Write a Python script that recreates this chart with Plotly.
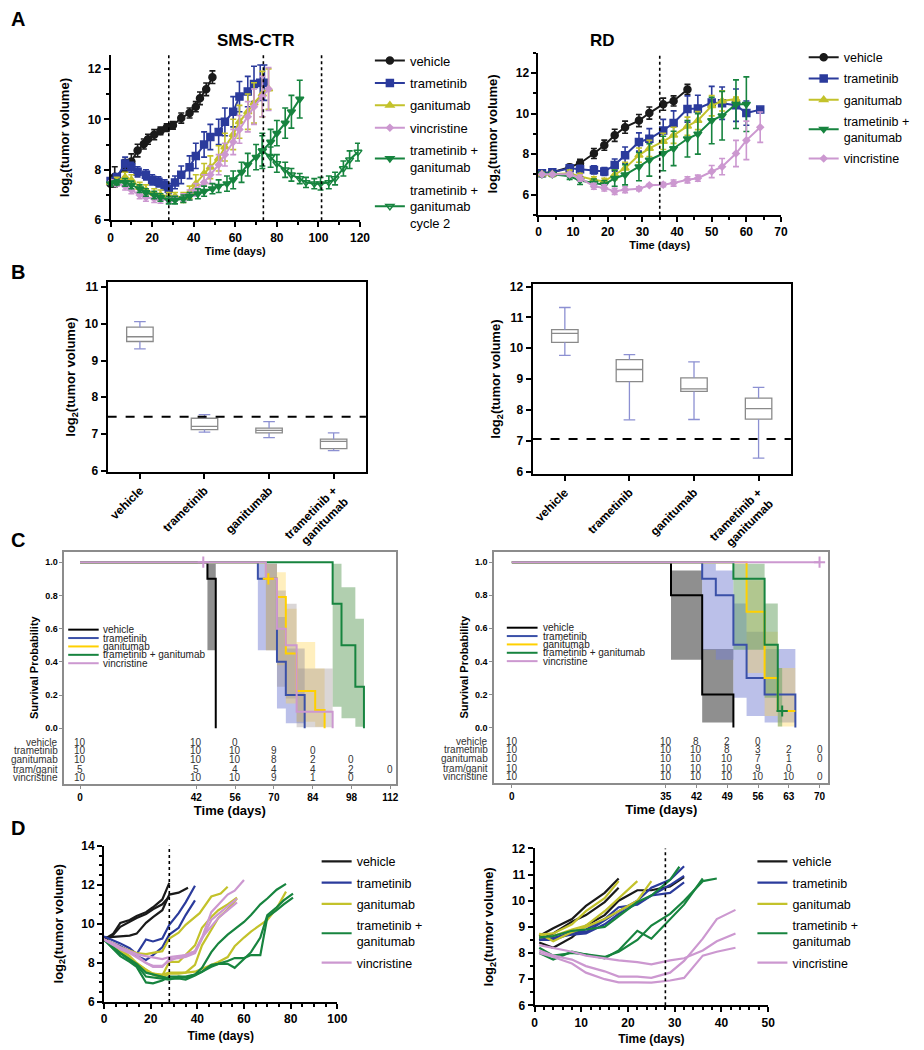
import plotly.graph_objects as go

# ======================= DATA =======================
# ---- Panel A (left): SMS-CTR, mean log2(tumor volume) +/- SEM ----
sms_veh_day = [0, 2, 7, 10, 13, 16, 18, 21, 24, 27, 30, 34, 38, 41, 43, 46, 49]
sms_veh_mean = [7.45, 7.72, 8.05, 8.33, 8.76, 9.02, 9.21, 9.39, 9.54, 9.67, 9.76, 10.05, 10.25, 10.5, 10.83, 11.19, 11.67]
sms_veh_sem = [0.12, 0.4, 0.35, 0.3, 0.25, 0.2, 0.2, 0.2, 0.15, 0.15, 0.15, 0.2, 0.2, 0.2, 0.25, 0.25, 0.25]

sms_tram_day = [0, 3, 7, 10, 13, 17, 20, 23, 26, 28, 31, 34, 38, 41, 45, 48, 52, 55, 59, 62, 66, 69, 72, 74]
sms_tram_mean = [7.55, 7.7, 8.25, 8.1, 7.92, 7.8, 7.6, 7.52, 7.4, 7.25, 7.5, 7.8, 8.1, 8.55, 9.0, 9.3, 9.5, 9.9, 10.3, 10.9, 11.1, 11.4, 11.45, 11.45]
sms_tram_sem = [0.1, 0.15, 0.25, 0.2, 0.2, 0.2, 0.2, 0.2, 0.2, 0.2, 0.25, 0.35, 0.45, 0.5, 0.5, 0.5, 0.5, 0.55, 0.6, 0.6, 0.6, 0.7, 0.7, 0.7]

sms_gan_day = [0, 3, 7, 10, 14, 17, 21, 24, 28, 31, 35, 38, 41, 45, 48, 52, 55, 59, 62, 66, 69, 73, 76]
sms_gan_mean = [7.5, 7.55, 7.7, 7.6, 7.3, 7.2, 7.05, 7.0, 6.95, 6.95, 6.9, 7.1, 7.45, 7.85, 8.1, 8.45, 8.9, 9.4, 9.9, 10.3, 10.65, 11.0, 11.2]
sms_gan_sem = [0.1, 0.15, 0.2, 0.2, 0.2, 0.2, 0.2, 0.2, 0.15, 0.15, 0.2, 0.25, 0.35, 0.4, 0.45, 0.5, 0.55, 0.6, 0.65, 0.7, 0.8, 0.9, 0.8]

sms_vin_day = [0, 3, 7, 10, 14, 17, 21, 24, 28, 31, 35, 38, 41, 45, 48, 52, 55, 59, 62, 66, 69, 73, 76]
sms_vin_mean = [7.5, 7.45, 7.35, 7.2, 7.0, 6.9, 6.85, 6.82, 6.8, 6.85, 6.9, 7.0, 7.2, 7.5, 7.8, 8.2, 8.6, 9.1, 9.6, 10.1, 10.5, 10.9, 11.2]
sms_vin_sem = [0.1, 0.1, 0.15, 0.15, 0.15, 0.15, 0.15, 0.15, 0.1, 0.1, 0.15, 0.2, 0.25, 0.3, 0.35, 0.4, 0.45, 0.5, 0.55, 0.6, 0.7, 0.8, 0.85]

sms_tg_day = [0, 3, 7, 10, 14, 17, 21, 24, 28, 31, 35, 38, 42, 45, 49, 52, 56, 59, 63, 66, 70, 73, 77, 80, 84, 87, 91]
sms_tg_mean = [7.45, 7.5, 7.5, 7.4, 7.25, 7.1, 7.0, 6.9, 6.8, 6.8, 6.85, 6.95, 7.05, 7.15, 7.25, 7.35, 7.45, 7.6, 7.9, 8.2, 8.5, 8.75, 9.1, 9.45, 9.85, 10.3, 10.8]
sms_tg_sem = [0.1, 0.1, 0.15, 0.15, 0.15, 0.15, 0.15, 0.15, 0.15, 0.15, 0.15, 0.15, 0.2, 0.2, 0.2, 0.25, 0.3, 0.35, 0.4, 0.45, 0.5, 0.7, 0.5, 0.5, 0.6, 0.65, 0.75]

sms_tg2_day = [73, 77, 80, 84, 87, 91, 94, 98, 101, 105, 108, 112, 115, 119]
sms_tg2_mean = [8.75, 8.5, 8.25, 8.0, 7.8, 7.65, 7.5, 7.45, 7.45, 7.5, 7.65, 8.05, 8.4, 8.7]
sms_tg2_sem = [0.6, 0.4, 0.35, 0.3, 0.25, 0.2, 0.2, 0.2, 0.25, 0.25, 0.25, 0.3, 0.35, 0.35]

sms_treatment_days = [28, 73.5, 101.5]

# ---- Panel A (right): RD ----
rd_veh_day = [1, 4, 9, 12, 16, 19, 22, 25, 29, 32, 36, 39, 43]
rd_veh_mean = [7.05, 7.1, 7.35, 7.55, 8.03, 8.44, 8.93, 9.33, 9.66, 10.03, 10.47, 10.63, 11.2]
rd_veh_sem = [0.1, 0.1, 0.15, 0.2, 0.25, 0.25, 0.3, 0.3, 0.3, 0.3, 0.3, 0.25, 0.25]

rd_tram_day = [1, 4, 9, 12, 16, 19, 22, 25, 29, 32, 36, 39, 43, 46, 50, 53, 57, 60, 64]
rd_tram_mean = [7.05, 7.1, 7.3, 7.25, 7.22, 7.14, 7.46, 7.95, 8.6, 8.76, 9.17, 9.54, 10.23, 10.26, 10.55, 10.52, 10.42, 10.03, 10.2]
rd_tram_sem = [0.1, 0.1, 0.15, 0.2, 0.2, 0.2, 0.3, 0.4, 0.45, 0.5, 0.55, 0.6, 0.65, 0.65, 0.8, 0.8, 0.8, 0.6, 0.0]

rd_gan_day = [1, 4, 9, 12, 16, 19, 22, 25, 29, 32, 36, 39, 43, 46, 50, 53, 57]
rd_gan_mean = [7.0, 7.0, 7.06, 6.9, 6.73, 6.65, 6.98, 7.3, 7.95, 8.28, 8.63, 8.93, 9.38, 9.66, 10.39, 10.63, 10.72]
rd_gan_sem = [0.1, 0.1, 0.15, 0.15, 0.15, 0.15, 0.25, 0.3, 0.35, 0.4, 0.4, 0.4, 0.45, 0.45, 0.5, 0.5, 0.1]

rd_tg_day = [1, 4, 9, 12, 16, 19, 22, 25, 29, 32, 36, 39, 43, 46, 50, 53, 57, 60]
rd_tg_mean = [7.0, 7.0, 6.9, 6.7, 6.57, 6.49, 6.81, 6.98, 7.38, 7.71, 8.03, 8.28, 8.76, 9.0, 9.66, 9.9, 10.47, 10.47]
rd_tg_sem = [0.1, 0.1, 0.15, 0.2, 0.2, 0.2, 0.4, 0.5, 0.7, 0.8, 0.85, 0.85, 0.9, 1.0, 1.15, 1.2, 1.2, 1.35]

rd_vin_day = [1, 4, 9, 12, 16, 19, 22, 25, 29, 32, 36, 39, 43, 46, 50, 53, 57, 60, 64]
rd_vin_mean = [7.0, 7.0, 7.0, 6.81, 6.41, 6.33, 6.16, 6.24, 6.29, 6.46, 6.49, 6.57, 6.73, 6.81, 7.14, 7.38, 8.03, 8.68, 9.33]
rd_vin_sem = [0.05, 0.05, 0.1, 0.15, 0.15, 0.15, 0.15, 0.15, 0.1, 0.05, 0.1, 0.15, 0.15, 0.15, 0.3, 0.4, 0.65, 0.95, 0.75]

rd_treatment_days = [35]

# ---- Panel B: box plots of log2(tumor volume) ----
box_groups = ["vehicle", "trametinib", "ganitumab", "trametinib +<br>ganitumab"]
bl_low = [9.32, 7.05, 6.9, 6.55]
bl_q1 = [9.52, 7.12, 7.03, 6.6]
bl_med = [9.65, 7.21, 7.1, 6.8]
bl_q3 = [9.91, 7.43, 7.16, 6.86]
bl_high = [10.06, 7.53, 7.34, 7.03]
bl_threshold = 7.47

br_low = [9.77, 7.68, 7.69, 6.44]
br_q1 = [10.19, 8.92, 8.6, 7.7]
br_med = [10.48, 9.31, 8.68, 8.04]
br_q3 = [10.6, 9.63, 9.04, 8.38]
br_high = [11.32, 9.79, 9.56, 8.73]
br_threshold = 7.06

# ---- Panel C: Kaplan-Meier curves (step times, survival, log-log CI) ----
cl_veh_t = [0, 46, 49]
cl_veh_s = [1, 0.9, 0]
cl_veh_ci_t = [46, 49]
cl_veh_lo = [0.47, 0.47]
cl_veh_hi = [0.99, 0.99]

cl_tram_t = [0, 64.2, 71.1, 74.3, 81.1]
cl_tram_s = [1, 0.9, 0.4, 0.2, 0]
cl_tram_ci_t = [64.2, 71.1, 74.3, 81.1]
cl_tram_lo = [0.47, 0.12, 0.03, 0.03]
cl_tram_hi = [0.99, 0.67, 0.48, 0.48]

cl_gan_t = [0, 67.1, 71.1, 74.3, 78.2, 84.9, 88.3]
cl_gan_s = [1, 0.9, 0.79, 0.45, 0.225, 0.11, 0]
cl_gan_ci_t = [67.1, 71.1, 74.3, 78.2, 84.9, 88.3]
cl_gan_lo = [0.47, 0.38, 0.15, 0.04, 0.01, 0.01]
cl_gan_hi = [0.99, 0.94, 0.72, 0.52, 0.36, 0.36]
cl_gan_cens_t = [68]
cl_gan_cens_s = [0.9]

cl_tg_t = [0, 91.2, 94.4, 99.4, 102.5]
cl_tg_s = [1, 0.75, 0.5, 0.25, 0]
cl_tg_ci_t = [91.2, 94.4, 99.4, 102.5]
cl_tg_lo = [0.13, 0.06, 0.01, 0.01]
cl_tg_hi = [0.99, 0.85, 0.66, 0.66]
cl_tg_cens_t = [44.5]
cl_tg_cens_s = [1.0]

cl_vin_t = [0, 67.1, 71.1, 74.3, 78.2, 91.2]
cl_vin_s = [1, 0.9, 0.6, 0.5, 0.1, 0]
cl_vin_ci_t = [67.1, 71.1, 74.3, 78.2, 91.2]
cl_vin_lo = [0.47, 0.25, 0.18, 0.006, 0.006]
cl_vin_hi = [0.99, 0.83, 0.75, 0.36, 0.36]

cr_veh_t = [0, 36.2, 43.3, 50.4]
cr_veh_s = [1, 0.8, 0.2, 0]
cr_veh_ci_t = [36.2, 43.3, 50.4]
cr_veh_lo = [0.41, 0.03, 0.03]
cr_veh_hi = [0.95, 0.475, 0.475]

cr_tram_t = [0, 43.3, 46.4, 50.4, 53.4, 57.5, 64.5]
cr_tram_s = [1, 0.9, 0.8, 0.5, 0.3, 0.2, 0]
cr_tram_ci_t = [43.3, 46.4, 50.4, 53.4, 57.5, 64.5]
cr_tram_lo = [0.47, 0.41, 0.18, 0.07, 0.03, 0.03]
cr_tram_hi = [0.99, 0.95, 0.75, 0.58, 0.475, 0.475]

cr_gan_t = [0, 53.4, 57.5, 60.5, 64.5]
cr_gan_s = [1, 0.7, 0.3, 0.1, 0.1]
cr_gan_ci_t = [53.4, 57.5, 60.5, 64.5]
cr_gan_lo = [0.33, 0.07, 0.006, 0.006]
cr_gan_hi = [0.89, 0.58, 0.36, 0.36]

cr_tg_t = [0, 50.4, 57.5, 60.5, 61.5]
cr_tg_s = [1, 0.9, 0.5, 0.1, 0.1]
cr_tg_ci_t = [50.4, 57.5, 60.5, 61.5]
cr_tg_lo = [0.47, 0.18, 0.006, 0.006]
cr_tg_hi = [0.99, 0.75, 0.36, 0.36]
cr_tg_cens_t = [61.5]
cr_tg_cens_s = [0.1]

cr_vin_t = [0, 70]
cr_vin_s = [1, 1]
cr_vin_cens_t = [70]
cr_vin_cens_s = [1.0]

# numbers at risk
risk_row_labels = ["vehicle", "trametinib", "ganitumab", "tram/ganit", "vincristine"]
rl_times = [0, 42, 56, 70, 84, 98, 112]
rl_vehicle = [10, 10, 0, None, None, None, None]
rl_trametinib = [10, 10, 10, 9, 0, None, None]
rl_ganitumab = [10, 10, 10, 8, 2, 0, None]
rl_tramganit = [5, 5, 4, 4, 4, 2, 0]
rl_vincristine = [10, 10, 10, 9, 1, 0, None]

rr_times = [0, 35, 42, 49, 56, 63, 70]
rr_vehicle = [10, 10, 8, 2, 0, None, None]
rr_trametinib = [10, 10, 10, 8, 3, 2, 0]
rr_ganitumab = [10, 10, 10, 10, 7, 1, 0]
rr_tramganit = [10, 10, 10, 10, 9, 0, None]
rr_vincristine = [10, 10, 10, 10, 10, 10, 0]

# ---- Panel D: individual tumours ----
dL_veh_days = [[0, 4, 7, 11, 14, 18, 21, 25, 28],
               [0, 4, 7, 11, 14, 18, 21, 25, 28, 32, 36],
               [0, 4, 7, 11, 14, 18, 21, 25, 28]]
dL_veh_vol = [[9.2, 9.5, 10.05, 10.2, 10.4, 10.6, 10.85, 11.25, 12.1],
              [9.3, 9.35, 9.35, 9.4, 9.5, 10.05, 10.35, 10.7, 11.5, 11.6, 11.85],
              [9.1, 9.45, 9.85, 10.1, 10.3, 10.5, 10.75, 11.0, 11.4]]
dL_tram_days = [[0, 4, 7, 11, 14, 18, 21, 25, 28, 32, 35, 39],
                [0, 4, 7, 11, 14, 18, 21, 25, 28, 32, 35, 39]]
dL_tram_vol = [[9.35, 9.15, 9.0, 8.75, 8.45, 9.2, 9.1, 9.25, 9.95, 10.55, 11.1, 11.95],
               [9.2, 9.0, 8.85, 8.6, 8.35, 8.15, 8.4, 8.8, 9.45, 9.8, 10.45, 11.2]]
dL_gan_days = [[0, 4, 7, 11, 14, 18, 21, 25, 28, 32, 35, 41, 46, 50, 53],
               [0, 4, 7, 11, 14, 18, 21, 25, 28, 32, 35, 39, 42, 46, 49, 53, 57],
               [0, 4, 7, 11, 14, 18, 21, 25, 28, 32, 35, 39, 42, 46, 49, 53, 56, 60, 63, 67, 70, 74, 78],
               [0, 4, 7, 11, 14, 18, 21, 25, 28, 32, 35, 39, 42, 46, 49, 53, 57]]
dL_gan_vol = [[9.2, 9.0, 8.8, 8.65, 8.5, 8.45, 8.5, 8.6, 9.25, 9.55, 9.95, 10.55, 11.4, 11.55, 11.9],
              [9.2, 8.9, 8.6, 8.25, 7.95, 7.65, 7.45, 7.35, 8.05, 8.05, 8.4, 8.9, 9.8, 10.35, 10.7, 11.0, 11.35],
              [9.2, 8.9, 8.6, 8.2, 7.9, 7.6, 7.45, 7.4, 7.5, 7.5, 7.5, 7.55, 7.7, 7.9, 8.05, 8.3, 8.85, 9.3, 9.6, 9.95, 10.2, 10.8, 11.65],
              [9.2, 8.95, 8.7, 8.35, 8.0, 7.65, 7.4, 7.25, 7.45, 7.45, 7.5, 7.9, 8.9, 9.7, 10.3, 10.75, 11.3]]
dL_tg_days = [[0, 4, 7, 11, 14, 18, 21, 25, 28, 32, 35, 39, 42, 46, 49, 53, 56, 60, 63, 67, 70, 74, 78],
              [0, 4, 7, 11, 14, 18, 21, 25, 28, 32, 35, 39, 42, 46, 49, 53, 56, 60, 63, 67, 70, 74, 77, 81],
              [0, 4, 7, 11, 14, 18, 21, 25, 28, 32, 35, 39, 42, 46, 49, 53, 56, 60, 63, 67, 70, 74, 77, 81]]
dL_tg_vol = [[9.2, 8.7, 8.35, 8.05, 7.8, 7.0, 6.95, 7.1, 7.3, 7.3, 7.25, 7.4, 7.75, 8.55, 9.0, 9.45, 9.75, 10.1, 10.45, 11.0, 11.3, 11.75, 12.05],
             [9.2, 8.8, 8.5, 8.15, 7.9, 7.3, 7.25, 7.2, 7.15, 7.3, 7.3, 7.4, 7.55, 7.8, 7.95, 7.95, 7.75, 8.2, 8.55, 9.3, 10.45, 10.85, 11.2, 11.55],
             [9.2, 8.75, 8.5, 8.2, 7.95, 7.5, 7.4, 7.3, 7.2, 7.2, 7.15, 7.35, 7.55, 7.9, 7.95, 8.1, 8.25, 8.25, 8.4, 8.4, 10.35, 10.7, 11.0, 11.35]]
dL_vin_days = [[0, 4, 7, 11, 14, 18, 21, 25, 28, 32, 35, 39, 42, 46, 49, 53, 56, 60],
               [0, 4, 7, 11, 14, 18, 21, 25, 28, 32, 35, 39, 42, 46, 49, 53, 57],
               [0, 4, 7, 11, 14, 18, 21, 25, 28, 32, 35, 39, 42, 46, 49, 53, 57]]
dL_vin_vol = [[9.2, 9.0, 8.8, 8.6, 8.45, 8.35, 8.3, 8.2, 8.3, 8.35, 8.4, 8.6, 9.3, 10.6, 11.0, 11.5, 11.7, 12.25],
              [9.2, 8.9, 8.7, 8.5, 8.3, 8.0, 7.85, 7.85, 8.1, 8.3, 8.4, 8.6, 9.3, 9.9, 10.3, 10.7, 11.1],
              [9.2, 8.95, 8.75, 8.55, 8.4, 8.0, 7.8, 7.8, 8.2, 8.25, 8.3, 8.5, 9.2, 10.2, 10.5, 10.9, 11.3]]
dL_treatment_days = [28]

dR_veh_days = [[1, 4, 8, 11, 15, 18], [1, 4, 8, 11, 15, 18], [1, 4, 8, 11, 15, 18, 22, 25, 29, 32]]
dR_veh_vol = [[8.65, 8.95, 9.3, 9.8, 10.3, 10.85],
              [8.5, 8.75, 9.2, 9.45, 9.95, 10.5],
              [8.4, 8.2, 8.6, 9.05, 9.45, 10.0, 10.4, 10.4, 10.55, 10.9]]
dR_tram_days = [[1, 4, 8, 11, 15, 18, 22, 25, 29, 32]] * 3
dR_tram_vol = [[8.6, 8.55, 8.8, 8.8, 9.25, 9.6, 10.0, 10.5, 10.8, 11.32],
               [8.55, 8.6, 8.7, 8.75, 9.1, 9.5, 9.9, 10.2, 10.6, 10.95],
               [8.5, 8.5, 8.75, 8.9, 9.3, 9.75, 9.85, 10.2, 10.3, 10.7]]
dR_gan_days = [[1, 4, 8, 11, 15, 18], [1, 4, 8, 11, 15, 18, 22], [1, 4, 8, 11, 15, 18, 22, 25]]
dR_gan_vol = [[8.7, 8.75, 9.1, 9.6, 10.1, 10.75],
              [8.6, 8.65, 8.9, 9.05, 9.6, 10.1, 10.75],
              [8.75, 8.45, 8.8, 9.0, 9.3, 9.6, 10.0, 10.75]]
dR_tg_days = [[1, 4, 8, 11, 15, 18, 22, 25, 29, 31],
              [1, 4, 8, 11, 15, 18, 22, 25, 29, 32, 36],
              [1, 4, 8, 11, 15, 18, 22, 25, 29, 32, 36, 39]]
dR_tg_vol = [[8.6, 8.65, 8.85, 8.9, 9.0, 9.4, 9.95, 10.2, 10.8, 11.3],
             [8.0, 7.75, 8.05, 7.95, 7.8, 8.1, 8.85, 8.55, 9.3, 9.85, 10.85],
             [8.2, 7.9, 8.0, 7.95, 7.85, 8.05, 8.5, 9.05, 9.5, 10.0, 10.75, 10.85]]
dR_vin_days = [[1, 4, 8, 11, 15, 18, 22, 25, 29, 32, 36, 39, 43]] * 3
dR_vin_vol = [[8.1, 7.9, 7.75, 7.5, 7.3, 7.1, 7.1, 7.05, 7.25, 7.7, 8.55, 9.3, 9.65],
              [8.3, 8.2, 8.05, 7.9, 7.8, 7.72, 7.65, 7.57, 7.72, 7.8, 8.1, 8.45, 8.75],
              [8.0, 7.85, 7.6, 7.25, 7.0, 6.88, 6.88, 6.87, 6.95, 7.05, 7.9, 8.05, 8.2]]
dR_treatment_days = [28]

# ======================= STYLE =======================
W, H = 924, 1050
OFF = 8  # page body margin that shifts the figure in the screenshot
FONT = "Liberation Sans, Arial, Helvetica, sans-serif"
C_VEH = "#1a1a1a"
C_TRAM = "#2b3b9c"
C_GAN = "#c3c22b"
C_TG = "#17843f"
C_VIN = "#cc98d0"
K_TRAM = "#3a50a8"
K_GAN = "#ffd000"
B_VEH = "rgba(95,95,95,0.7)"
B_TRAM = "rgba(120,130,212,0.5)"
B_GAN = "rgba(255,208,70,0.35)"
B_TG = "rgba(100,160,95,0.5)"
B_VIN = "rgba(150,138,138,0.35)"


def px(p):
    return (p - OFF) / W


def py(p):
    return 1 - (p - OFF) / H


def dx(a, b):
    return [px(a), px(b)]


def dy(top, bottom):
    return [py(bottom), py(top)]


fig = go.Figure()


def mean_trace(x, y, e, name, color, symbol, xa, ya, legend, size=7):
    fig.add_trace(go.Scatter(
        x=x, y=y, mode="lines+markers", name=name,
        line=dict(color=color, width=2),
        marker=dict(symbol=symbol, size=size, color=color, line=dict(color=color, width=1.5)),
        error_y=dict(type="data", array=e, visible=True, color=color, thickness=1.6, width=3),
        xaxis=xa, yaxis=ya, legend=legend, legendgroup=name + xa, cliponaxis=False))


# ---- A left
mean_trace(sms_veh_day, sms_veh_mean, sms_veh_sem, "vehicle", C_VEH, "circle", "x", "y", "legend")
mean_trace(sms_tram_day, sms_tram_mean, sms_tram_sem, "trametinib", C_TRAM, "square", "x", "y", "legend")
mean_trace(sms_gan_day, sms_gan_mean, sms_gan_sem, "ganitumab", C_GAN, "triangle-up", "x", "y", "legend")
mean_trace(sms_vin_day, sms_vin_mean, sms_vin_sem, "vincristine", C_VIN, "diamond", "x", "y", "legend", size=5)
mean_trace(sms_tg_day, sms_tg_mean, sms_tg_sem, "trametinib +<br>ganitumab", C_TG, "triangle-down", "x", "y", "legend")
mean_trace(sms_tg2_day, sms_tg2_mean, sms_tg2_sem, "trametinib +<br>ganitumab<br>cycle 2", C_TG, "triangle-down-open", "x", "y", "legend")

# ---- A right
mean_trace(rd_veh_day, rd_veh_mean, rd_veh_sem, "vehicle", C_VEH, "circle", "x2", "y2", "legend2")
mean_trace(rd_tram_day, rd_tram_mean, rd_tram_sem, "trametinib", C_TRAM, "square", "x2", "y2", "legend2")
mean_trace(rd_gan_day, rd_gan_mean, rd_gan_sem, "ganitumab", C_GAN, "triangle-up", "x2", "y2", "legend2")
mean_trace(rd_tg_day, rd_tg_mean, rd_tg_sem, "trametinib +<br>ganitumab", C_TG, "triangle-down", "x2", "y2", "legend2")
mean_trace(rd_vin_day, rd_vin_mean, rd_vin_sem, "vincristine", C_VIN, "diamond", "x2", "y2", "legend2", size=5)


# ---- B
def box_panel(low, q1, med, q3, high, xa, ya):
    pos = list(range(len(q1)))
    fig.add_trace(go.Box(x=pos, q1=q1, median=med, q3=q3, lowerfence=q1, upperfence=q3,
                         width=0.41, whiskerwidth=0, fillcolor="white",
                         line=dict(color="#8a8a8a", width=1.3), boxpoints=False,
                         xaxis=xa, yaxis=ya, showlegend=False, hoverinfo="skip"))
    wx, wy = [], []
    cw = 0.09
    for i in pos:
        wx += [i, i, None, i, i, None, i - cw, i + cw, None, i - cw, i + cw, None]
        wy += [q3[i], high[i], None, q1[i], low[i], None, high[i], high[i], None, low[i], low[i], None]
    fig.add_trace(go.Scatter(x=wx, y=wy, mode="lines", line=dict(color="#8c90d2", width=1.3),
                             xaxis=xa, yaxis=ya, showlegend=False, hoverinfo="skip"))


box_panel(bl_low, bl_q1, bl_med, bl_q3, bl_high, "x3", "y3")
box_panel(br_low, br_q1, br_med, br_q3, br_high, "x4", "y4")


# ---- C
def band(t, lo, hi, fc, xa, ya):
    fig.add_trace(go.Scatter(x=t, y=hi, mode="lines", line=dict(width=0, shape="hv"),
                             xaxis=xa, yaxis=ya, showlegend=False, hoverinfo="skip"))
    fig.add_trace(go.Scatter(x=t, y=lo, mode="lines", line=dict(width=0, shape="hv"),
                             fill="tonexty", fillcolor=fc,
                             xaxis=xa, yaxis=ya, showlegend=False, hoverinfo="skip"))


def km(t, s, color, xa, ya):
    fig.add_trace(go.Scatter(x=t, y=s, mode="lines", line=dict(color=color, width=2, shape="hv"),
                             xaxis=xa, yaxis=ya, showlegend=False, hoverinfo="skip"))


def cens(t, s, color, xa, ya):
    fig.add_trace(go.Scatter(x=t, y=s, mode="markers",
                             marker=dict(symbol="cross-thin", size=8, line=dict(color=color, width=2)),
                             xaxis=xa, yaxis=ya, showlegend=False, hoverinfo="skip", cliponaxis=False))


band(cl_veh_ci_t, cl_veh_lo, cl_veh_hi, B_VEH, "x5", "y5")
band(cl_tram_ci_t, cl_tram_lo, cl_tram_hi, B_TRAM, "x5", "y5")
band(cl_gan_ci_t, cl_gan_lo, cl_gan_hi, B_GAN, "x5", "y5")
band(cl_tg_ci_t, cl_tg_lo, cl_tg_hi, B_TG, "x5", "y5")
band(cl_vin_ci_t, cl_vin_lo, cl_vin_hi, B_VIN, "x5", "y5")
km(cl_veh_t, cl_veh_s, "black", "x5", "y5")
km(cl_tram_t, cl_tram_s, K_TRAM, "x5", "y5")
km(cl_gan_t, cl_gan_s, K_GAN, "x5", "y5")
km(cl_tg_t, cl_tg_s, C_TG, "x5", "y5")
km(cl_vin_t, cl_vin_s, C_VIN, "x5", "y5")
cens(cl_gan_cens_t, cl_gan_cens_s, K_GAN, "x5", "y5")
cens(cl_tg_cens_t, cl_tg_cens_s, C_VIN, "x5", "y5")

band(cr_veh_ci_t, cr_veh_lo, cr_veh_hi, B_VEH, "x6", "y6")
band(cr_tram_ci_t, cr_tram_lo, cr_tram_hi, B_TRAM, "x6", "y6")
band(cr_gan_ci_t, cr_gan_lo, cr_gan_hi, B_GAN, "x6", "y6")
band(cr_tg_ci_t, cr_tg_lo, cr_tg_hi, B_TG, "x6", "y6")
km(cr_veh_t, cr_veh_s, "black", "x6", "y6")
km(cr_tram_t, cr_tram_s, K_TRAM, "x6", "y6")
km(cr_gan_t, cr_gan_s, K_GAN, "x6", "y6")
km(cr_tg_t, cr_tg_s, C_TG, "x6", "y6")
km(cr_vin_t, cr_vin_s, C_VIN, "x6", "y6")
cens(cr_tg_cens_t, cr_tg_cens_s, C_TG, "x6", "y6")
cens(cr_vin_cens_t, cr_vin_cens_s, C_VIN, "x6", "y6")


# ---- D
def spaghetti(days, vols, name, color, xa, ya, legend):
    for k, (xx, yy) in enumerate(zip(days, vols)):
        fig.add_trace(go.Scatter(x=xx, y=yy, mode="lines", name=name,
                                 line=dict(color=color, width=2.2),
                                 xaxis=xa, yaxis=ya, legend=legend,
                                 legendgroup=name + xa, showlegend=(k == 0),
                                 hoverinfo="skip", cliponaxis=False))


spaghetti(dL_veh_days, dL_veh_vol, "vehicle", C_VEH, "x7", "y7", "legend3")
spaghetti(dL_tram_days, dL_tram_vol, "trametinib", C_TRAM, "x7", "y7", "legend3")
spaghetti(dL_gan_days, dL_gan_vol, "ganitumab", C_GAN, "x7", "y7", "legend3")
spaghetti(dL_tg_days, dL_tg_vol, "trametinib +<br>ganitumab", C_TG, "x7", "y7", "legend3")
spaghetti(dL_vin_days, dL_vin_vol, "vincristine", C_VIN, "x7", "y7", "legend3")

spaghetti(dR_veh_days, dR_veh_vol, "vehicle", C_VEH, "x8", "y8", "legend4")
spaghetti(dR_tram_days, dR_tram_vol, "trametinib", C_TRAM, "x8", "y8", "legend4")
spaghetti(dR_gan_days, dR_gan_vol, "ganitumab", C_GAN, "x8", "y8", "legend4")
spaghetti(dR_tg_days, dR_tg_vol, "trametinib +<br>ganitumab", C_TG, "x8", "y8", "legend4")
spaghetti(dR_vin_days, dR_vin_vol, "vincristine", C_VIN, "x8", "y8", "legend4")

# ======================= AXES =======================
YT = "log<sub>2</sub>(tumor volume)"


def gp_axis(domain, rng, dtick, minor, title=None, tsize=13, tfs=12, standoff=None, **kw):
    d = dict(domain=domain, range=rng, dtick=dtick, tick0=0, showline=True, linecolor="black",
             linewidth=2, ticks="outside", ticklen=5, tickwidth=2, tickcolor="black",
             showgrid=False, zeroline=False,
             tickfont=dict(size=tfs, color="black", weight="bold"),
             minor=dict(ticks="outside", ticklen=3, tickwidth=1.5, tickcolor="black", dtick=minor, showgrid=False))
    if title:
        d["title"] = dict(text=title, font=dict(size=tsize, weight="bold", color="black"))
        if standoff is not None:
            d["title"]["standoff"] = standoff
    d.update(kw)
    return d


def frame_axis(domain, rng, color, width, **kw):
    d = dict(domain=domain, range=rng, showline=True, mirror=True, linecolor=color, linewidth=width,
             showgrid=False, zeroline=False, ticks="outside", tickcolor=color)
    d.update(kw)
    return d


cl_ticks = [0, 0.2, 0.4, 0.6, 0.8, 1.0]

fig.update_layout(
    width=W, height=H, margin=dict(l=0, r=0, t=0, b=0),
    paper_bgcolor="white", plot_bgcolor="white",
    font=dict(family=FONT, color="black"),
    # A
    xaxis=gp_axis(dx(109, 362), [0, 120], 20, 10, "Time (days)", tsize=11, standoff=2, anchor="y"),
    yaxis=gp_axis(dy(48.5, 216), [6, 12.55], 2, 1, YT, anchor="x"),
    xaxis2=gp_axis(dx(543, 789), [0, 70], 10, 5, "Time (days)", tsize=11, standoff=2, anchor="y2"),
    yaxis2=gp_axis(dy(46.5, 210.5), [5, 13], 2, 1, YT, anchor="x2"),
    # B
    xaxis3=frame_axis(dx(106, 368), [-0.5, 3.5], "black", 2, anchor="y3", tickvals=[0, 1, 2, 3],
                      ticktext=box_groups, tickangle=-45, ticklen=5, tickwidth=2,
                      tickfont=dict(size=12, weight="bold", color="black")),
    yaxis3=frame_axis(dy(279, 471), [5.97, 11.13], "black", 2, anchor="x3", dtick=1, ticklen=5, tickwidth=2,
                      tickfont=dict(size=12, weight="bold", color="black"),
                      title=dict(text=YT, font=dict(size=13, weight="bold"), standoff=6)),
    xaxis4=frame_axis(dx(537, 799), [-0.5, 3.5], "black", 2, anchor="y4", tickvals=[0, 1, 2, 3],
                      ticktext=box_groups, tickangle=-45, ticklen=5, tickwidth=2,
                      tickfont=dict(size=12, weight="bold", color="black")),
    yaxis4=frame_axis(dy(281, 473), [5.93, 12.07], "black", 2, anchor="x4", dtick=1, ticklen=5, tickwidth=2,
                      tickfont=dict(size=12, weight="bold", color="black"),
                      title=dict(text=YT, font=dict(size=13, weight="bold"), standoff=6)),
    # C
    xaxis5=frame_axis(dx(62, 398), [-5.7, 113.9], "#8c8c8c", 1.5, anchor="y5", tickvals=rl_times,
                      ticklen=4, tickwidth=1, tickfont=dict(size=10, weight="bold", color="black"),
                      title=dict(text="Time (days)", font=dict(size=13, weight="bold"), standoff=4)),
    yaxis5=frame_axis(dy(552, 787), [-0.333, 1.063], "#8c8c8c", 1.5, anchor="x5", tickvals=cl_ticks,
                      tickformat=".1f", ticklen=3, tickwidth=1,
                      tickfont=dict(size=9, weight="bold", color="black"),
                      title=dict(text="Survival Probability", font=dict(size=11, weight="bold"), standoff=4)),
    xaxis6=frame_axis(dx(498, 837), [-4.04, 72.0], "#8c8c8c", 1.5, anchor="y6", tickvals=rr_times,
                      ticklen=4, tickwidth=1, tickfont=dict(size=10, weight="bold", color="black"),
                      title=dict(text="Time (days)", font=dict(size=13, weight="bold"), standoff=4)),
    yaxis6=frame_axis(dy(552, 786), [-0.333, 1.063], "#8c8c8c", 1.5, anchor="x6", tickvals=cl_ticks,
                      tickformat=".1f", ticklen=3, tickwidth=1,
                      tickfont=dict(size=9, weight="bold", color="black"),
                      title=dict(text="Survival Probability", font=dict(size=11, weight="bold"), standoff=4)),
    # D
    xaxis7=gp_axis(dx(102.3, 339), [0, 100], 20, 5, "Time (days)", tsize=12, standoff=6, anchor="y7"),
    yaxis7=gp_axis(dy(850, 1008.3), [6, 14], 2, 0.5, YT, anchor="x7"),
    xaxis8=gp_axis(dx(539, 776), [0, 50], 10, 2, "Time (days)", tsize=12, standoff=6, anchor="y8"),
    yaxis8=gp_axis(dy(852.7, 1011.7), [6, 12], 1, 0.5, YT, anchor="x8"),
)

leg_common = dict(xanchor="left", yanchor="top", bgcolor="rgba(0,0,0,0)", borderwidth=0,
                  itemwidth=30, traceorder="grouped")
leg_font13 = dict(size=13, family=FONT, color="black")
leg_font125 = dict(size=12.5, family=FONT, color="black")
fig.update_layout(
    legend=dict(x=px(372), y=py(39), font=leg_font13, tracegroupgap=2.5, **leg_common),
    legend2=dict(x=px(812), y=py(36), font=leg_font125, tracegroupgap=2, **leg_common),
    legend3=dict(x=px(318), y=py(851), font=leg_font125, tracegroupgap=2, **leg_common),
    legend4=dict(x=px(760), y=py(851), font=leg_font125, tracegroupgap=2, **leg_common),
)

shapes = []
for d in sms_treatment_days:
    shapes.append(dict(type="line", xref="x", yref="y domain", x0=d, x1=d, y0=0, y1=1,
                       line=dict(color="black", width=1.6, dash="dot")))
for d in rd_treatment_days:
    shapes.append(dict(type="line", xref="x2", yref="y2 domain", x0=d, x1=d, y0=0, y1=1,
                       line=dict(color="black", width=1.6, dash="dot")))
for d in dL_treatment_days:
    shapes.append(dict(type="line", xref="x7", yref="y7 domain", x0=d, x1=d, y0=0, y1=1,
                       line=dict(color="black", width=1.6, dash="dot")))
for d in dR_treatment_days:
    shapes.append(dict(type="line", xref="x8", yref="y8 domain", x0=d, x1=d, y0=0, y1=1,
                       line=dict(color="black", width=1.6, dash="dot")))
shapes.append(dict(type="line", xref="x3 domain", yref="y3", x0=0, x1=1, y0=bl_threshold, y1=bl_threshold,
                   line=dict(color="black", width=2, dash="dash")))
shapes.append(dict(type="line", xref="x4 domain", yref="y4", x0=0, x1=1, y0=br_threshold, y1=br_threshold,
                   line=dict(color="black", width=2, dash="dash")))

annotations = []
# panel letters and titles
for letter, yy in [("A", 12), ("B", 268), ("C", 540), ("D", 832)]:
    annotations.append(dict(text=letter, x=px(6), y=py(yy), xref="paper", yref="paper",
                            xanchor="left", yanchor="middle", showarrow=False,
                            font=dict(size=20, weight="bold", color="black")))
annotations.append(dict(text="SMS-CTR", x=px(215), y=py(22), xref="paper", yref="paper",
                        showarrow=False, font=dict(size=17, weight="bold")))
annotations.append(dict(text="RD", x=px(608), y=py(22), xref="paper", yref="paper",
                        showarrow=False, font=dict(size=17, weight="bold")))

# C legends (compact, inside plot)
c_leg_labels = ["vehicle", "trametinib", "ganitumab", "trametinib + ganitumab", "vincristine"]
c_leg_colors = ["black", K_TRAM, K_GAN, C_TG, C_VIN]
for xa, ya, x0, x1, xt, ytop in [("x5", "y5", 0.012, 0.104, 0.110, 0.664),
                                  ("x6", "y6", 0.038, 0.130, 0.139, 0.671)]:
    for i, (lab, col) in enumerate(zip(c_leg_labels, c_leg_colors)):
        yv = ytop - i * 0.0362
        shapes.append(dict(type="line", xref=xa + " domain", yref=ya + " domain", x0=x0, x1=x1,
                           y0=yv, y1=yv, line=dict(color=col, width=2)))
        annotations.append(dict(text=lab, xref=xa + " domain", yref=ya + " domain", x=xt, y=yv,
                                xanchor="left", yanchor="middle", showarrow=False,
                                font=dict(size=10, color="#222")))

# risk tables
risk_row_y = [-0.086, -0.135, -0.19, -0.25, -0.297]
for xa, ya, times, rows, lab_x in [
        ("x5", "y5", rl_times, [rl_vehicle, rl_trametinib, rl_ganitumab, rl_tramganit, rl_vincristine], 58),
        ("x6", "y6", rr_times, [rr_vehicle, rr_trametinib, rr_ganitumab, rr_tramganit, rr_vincristine], 494)]:
    for r, (vals, yv) in enumerate(zip(rows, risk_row_y)):
        annotations.append(dict(text=risk_row_labels[r], xref="paper", yref=ya, x=px(lab_x), y=yv,
                                xanchor="right", yanchor="middle", showarrow=False,
                                font=dict(size=10, color="#333")))
        for t, v in zip(times, vals):
            if v is None:
                continue
            annotations.append(dict(text=str(v), xref=xa, yref=ya, x=t, y=yv, xanchor="center",
                                    yanchor="middle", showarrow=False, font=dict(size=10, color="#333")))

fig.update_layout(shapes=shapes, annotations=annotations)
fig.write_html("out.html")
